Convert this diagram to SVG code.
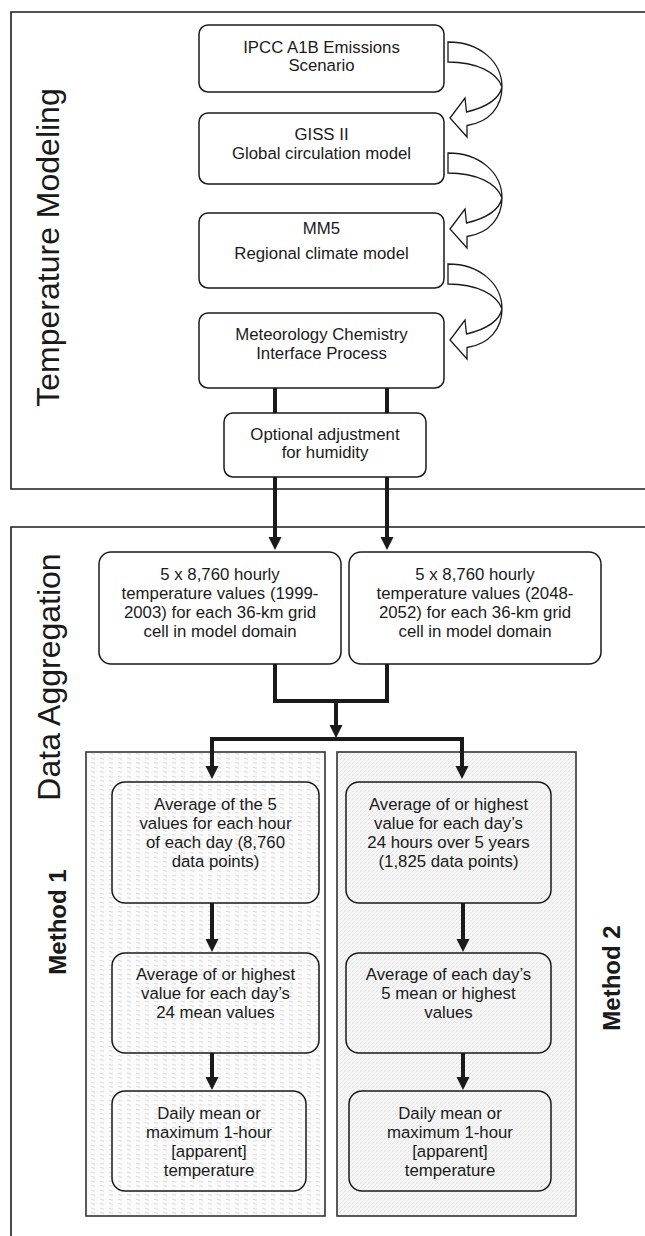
<svg xmlns="http://www.w3.org/2000/svg" width="645" height="1236" viewBox="0 0 645 1236">
<style>
.frame{fill:none;stroke:#1e1e1e;stroke-width:1.6}
.box{fill:#fff;stroke:#1a1a1a;stroke-width:1.5}
.mbox{fill:none;stroke:#1a1a1a;stroke-width:1.5}
.panel{stroke:#333;stroke-width:1.6}
.t{font-family:"Liberation Sans",Arial,sans-serif;font-size:16.8px;fill:#1a1a1a;text-anchor:middle}
.big{font-family:"Liberation Sans",Arial,sans-serif;font-size:32px;fill:#1a1a1a;text-anchor:middle}
.meth{font-family:"Liberation Sans",Arial,sans-serif;font-size:24px;font-weight:bold;fill:#1a1a1a;text-anchor:middle}
.thick{fill:none;stroke:#1a1a1a;stroke-width:4;stroke-linejoin:miter}
.head{fill:#1a1a1a}
.carrow{fill:#fff;stroke:#1a1a1a;stroke-width:1.3;stroke-linejoin:miter}
</style>
<defs>
<path id="ah" d="M-6.5,-13 L6.5,-13 L0,0 Z"/>
<pattern id="p1" width="9" height="4.5" patternUnits="userSpaceOnUse">
<rect width="9" height="4.5" fill="#fbfbfb"/>
<path d="M1,2.5 q1,-1 2,0 t2,0" fill="none" stroke="#bcbcbc" stroke-width="0.6"/>
</pattern>
<pattern id="p2" width="4" height="4" patternUnits="userSpaceOnUse">
<rect width="4" height="4" fill="#f6f6f6"/>
<path d="M0,4 L4,0" stroke="#c0c0c0" stroke-width="0.55" stroke-dasharray="1,0.9"/>
</pattern>
<path id="crv" d="M448,42 C480,42 502,62 502,87 C502,106 490,122 467,125.5 L467,137 L450,118 L465,98 L466.5,112 C483,108 499,100 502,87 C497,72 476,62 448,62 Z"/>
</defs>

<g id="frames">
<path class="frame" d="M645,12 H11 V489 H645"/>
<path class="frame" d="M645,527 H11 V1236"/>
</g>

<g id="labels">
<text class="big" transform="translate(59,247.5) rotate(-90)">Temperature Modeling</text>
<text class="big" transform="translate(60,677) rotate(-90)">Data Aggregation</text>
<text class="meth" transform="translate(66,922) rotate(-90)">Method 1</text>
<text class="meth" transform="translate(620,978) rotate(-90)">Method 2</text>
</g>

<g id="panel1"><rect class="panel" x="86" y="752" width="239" height="464" fill="url(#p1)"/></g>
<g id="panel2"><rect class="panel" x="337" y="752" width="239" height="464" fill="url(#p2)"/></g>

<g id="connectors">
<use href="#crv" class="carrow"/>
<use href="#crv" class="carrow" transform="translate(0,111)"/>
<use href="#crv" class="carrow" transform="translate(0,222)"/>
<path class="thick" d="M275,388 V413 M387,388 V413"/>
<path class="thick" d="M275,477 V539 M387,477 V539"/>
<use href="#ah" class="head" x="275" y="550"/>
<use href="#ah" class="head" x="387" y="550"/>
<path class="thick" d="M275,664 V701 H387 V664"/>
<path class="thick" d="M336,701 V726"/>
<use href="#ah" class="head" x="336" y="738"/>
<path class="thick" d="M212,768 V739 H462 V768"/>
<use href="#ah" class="head" x="212" y="779"/>
<use href="#ah" class="head" x="462" y="779"/>
<path class="thick" d="M212,903 V941 M212,1053 V1079 M463,903 V941 M463,1053 V1079"/>
<use href="#ah" class="head" x="212" y="952"/>
<use href="#ah" class="head" x="212" y="1090"/>
<use href="#ah" class="head" x="463" y="952"/>
<use href="#ah" class="head" x="463" y="1090"/>
</g>

<g id="n1"><rect class="box" x="199" y="25" width="245" height="67" rx="9"/>
<text class="t" x="321.5" y="52.5">IPCC A1B Emissions</text><text class="t" x="321.5" y="71">Scenario</text></g>
<g id="n2"><rect class="box" x="199" y="113" width="245" height="71" rx="9"/>
<text class="t" x="321.5" y="139.5">GISS II</text><text class="t" x="321.5" y="158.5">Global circulation model</text></g>
<g id="n3"><rect class="box" x="199" y="213" width="245" height="75" rx="9"/>
<text class="t" x="321.5" y="233.5">MM5</text><text class="t" x="321.5" y="259">Regional climate model</text></g>
<g id="n4"><rect class="box" x="199" y="313" width="245" height="75" rx="9"/>
<text class="t" x="321.5" y="340">Meteorology Chemistry</text><text class="t" x="321.5" y="358.5">Interface Process</text></g>
<g id="n5"><rect class="box" x="224" y="413" width="202" height="64" rx="9"/>
<text class="t" x="325" y="439.5">Optional adjustment</text><text class="t" x="325" y="458">for humidity</text></g>

<g id="nA"><rect class="box" x="99" y="552" width="242" height="112" rx="12"/>
<text class="t" x="220" y="580">5 x 8,760 hourly</text><text class="t" x="220" y="599">temperature values (1999-</text><text class="t" x="220" y="618">2003) for each 36-km grid</text><text class="t" x="220" y="637">cell in model domain</text></g>
<g id="nB"><rect class="box" x="349" y="552" width="252" height="112" rx="12"/>
<text class="t" x="475" y="580">5 x 8,760 hourly</text><text class="t" x="475" y="599">temperature values (2048-</text><text class="t" x="475" y="618">2052) for each 36-km grid</text><text class="t" x="475" y="637">cell in model domain</text></g>

<g id="m1a"><rect class="mbox" x="112" y="782" width="207" height="121" rx="13"/>
<text class="t" x="215.5" y="810">Average of the 5</text><text class="t" x="215.5" y="829">values for each hour</text><text class="t" x="215.5" y="848">of each day (8,760</text><text class="t" x="215.5" y="867">data points)</text></g>
<g id="m1b"><rect class="mbox" x="112" y="953" width="207" height="100" rx="13"/>
<text class="t" x="215.5" y="980">Average of or highest</text><text class="t" x="215.5" y="999">value for each day’s</text><text class="t" x="215.5" y="1018">24 mean values</text></g>
<g id="m1c"><rect class="mbox" x="112" y="1091" width="194" height="100" rx="13"/>
<text class="t" x="209" y="1118.5">Daily mean or</text><text class="t" x="209" y="1137.5">maximum 1-hour</text><text class="t" x="209" y="1156.5">[apparent]</text><text class="t" x="209" y="1175.5">temperature</text></g>

<g id="m2a"><rect class="mbox" x="346" y="782" width="205" height="121" rx="13"/>
<text class="t" x="448.5" y="810">Average of or highest</text><text class="t" x="448.5" y="829">value for each day’s</text><text class="t" x="448.5" y="848">24 hours over 5 years</text><text class="t" x="448.5" y="867">(1,825 data points)</text></g>
<g id="m2b"><rect class="mbox" x="346" y="953" width="205" height="100" rx="13"/>
<text class="t" x="448.5" y="980">Average of each day’s</text><text class="t" x="448.5" y="999">5 mean or highest</text><text class="t" x="448.5" y="1018">values</text></g>
<g id="m2c"><rect class="mbox" x="349" y="1091" width="202" height="100" rx="13"/>
<text class="t" x="450" y="1118.5">Daily mean or</text><text class="t" x="450" y="1137.5">maximum 1-hour</text><text class="t" x="450" y="1156.5">[apparent]</text><text class="t" x="450" y="1175.5">temperature</text></g>
</svg>
